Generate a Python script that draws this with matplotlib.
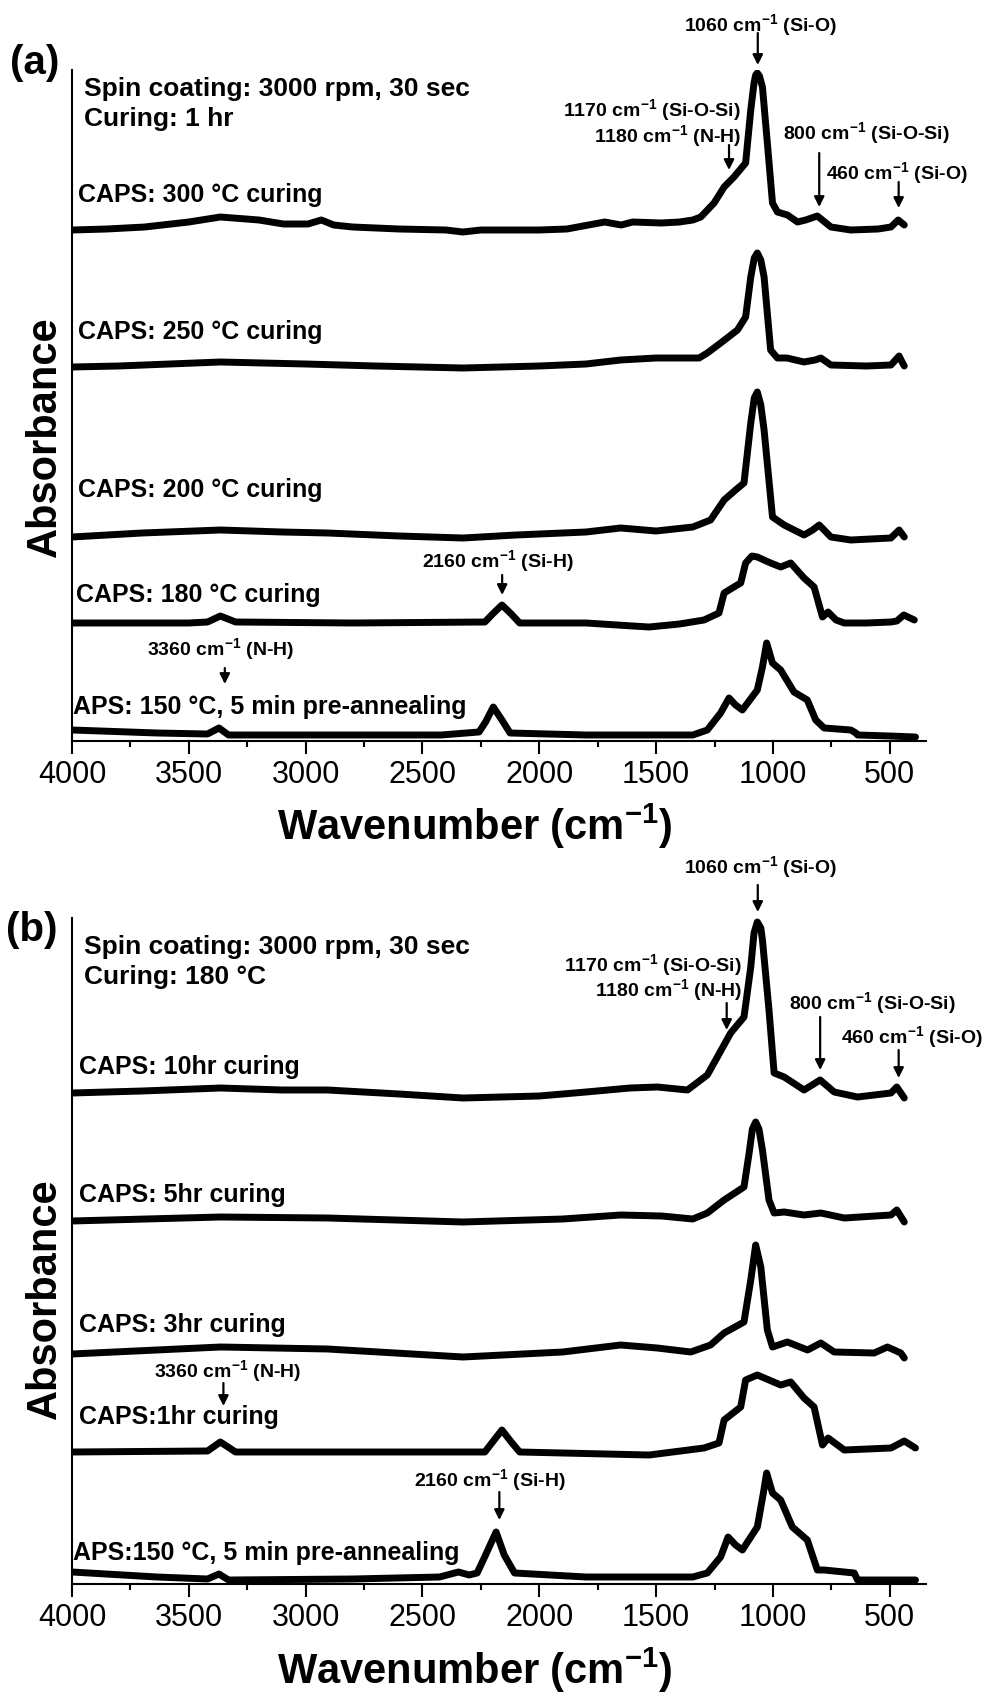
import matplotlib
matplotlib.use('Agg')
import matplotlib.pyplot as plt
from matplotlib.ticker import MultipleLocator

plt.rcParams['font.family'] = ['Liberation Sans', 'DejaVu Sans']
plt.rcParams['mathtext.default'] = 'regular'

W, H = 987, 1695

# ---- panel (a): curing temperature, absorbance (a.u., stacked) ----
wn_300 = [4000, 3850, 3689, 3500, 3365, 3200, 3095, 2990, 2933, 2880, 2799, 2600, 2400, 2327, 2250,
          2000, 1882, 1720, 1650, 1600, 1477, 1400, 1343, 1309, 1252, 1209, 1167, 1117, 1095, 1081,
          1074, 1067, 1058, 1045, 1024, 1002, 981, 938, 895, 860, 810, 752, 667, 550, 495, 464, 438]
ab_300 = [5.11, 5.12, 5.14, 5.19, 5.24, 5.21, 5.17, 5.17, 5.21, 5.16, 5.14, 5.12, 5.11, 5.09, 5.11,
          5.11, 5.12, 5.19, 5.16, 5.19, 5.18, 5.19, 5.21, 5.24, 5.38, 5.54, 5.64, 5.78, 6.31, 6.58,
          6.66, 6.68, 6.65, 6.54, 5.98, 5.38, 5.29, 5.26, 5.19, 5.21, 5.25, 5.14, 5.11, 5.12, 5.14, 5.21, 5.16]

wn_250 = [4000, 3800, 3365, 3000, 2700, 2327, 2000, 1800, 1652, 1500, 1316, 1281, 1224, 1152, 1117,
          1095, 1080, 1067, 1052, 1038, 1010, 981, 940, 867, 820, 795, 752, 600, 495, 460, 452, 438]
ab_250 = [3.74, 3.75, 3.79, 3.77, 3.75, 3.73, 3.75, 3.77, 3.81, 3.83, 3.83, 3.88, 3.98, 4.11, 4.24,
          4.64, 4.83, 4.88, 4.81, 4.64, 3.91, 3.83, 3.83, 3.79, 3.81, 3.83, 3.76, 3.75, 3.76, 3.85, 3.81, 3.75]

wn_200 = [4000, 3700, 3365, 3100, 2906, 2600, 2327, 2100, 1800, 1652, 1500, 1343, 1267, 1209, 1160,
          1124, 1095, 1080, 1067, 1052, 1038, 1002, 952, 867, 830, 802, 752, 667, 495, 460, 438]
ab_200 = [2.04, 2.08, 2.11, 2.09, 2.08, 2.05, 2.03, 2.06, 2.09, 2.13, 2.10, 2.14, 2.21, 2.41, 2.51,
          2.58, 3.18, 3.43, 3.49, 3.36, 3.11, 2.24, 2.16, 2.06, 2.11, 2.16, 2.04, 2.01, 2.03, 2.11, 2.04]

wn_180 = [4000, 3500, 3420, 3365, 3300, 2800, 2233, 2200, 2160, 2120, 2084, 1800, 1600, 1530, 1400,
          1295, 1231, 1209, 1160, 1138, 1117, 1090, 1067, 1010, 967, 924, 890, 867, 824, 788, 764,
          730, 695, 600, 495, 470, 440, 395]
ab_180 = [1.18, 1.18, 1.19, 1.25, 1.19, 1.18, 1.19, 1.27, 1.36, 1.27, 1.18, 1.18, 1.15, 1.14, 1.17,
          1.21, 1.28, 1.48, 1.55, 1.58, 1.78, 1.85, 1.84, 1.78, 1.74, 1.78, 1.69, 1.63, 1.54, 1.24, 1.29,
          1.21, 1.18, 1.18, 1.19, 1.20, 1.26, 1.21]

wn_aps_a = [4000, 3636, 3420, 3371, 3330, 2800, 2420, 2258, 2230, 2197, 2160, 2125, 1800, 1343, 1281,
            1224, 1188, 1160, 1131, 1067, 1045, 1027, 1002, 967, 910, 853, 817, 781, 667, 645, 638, 500, 390]
ab_aps_a = [0.11, 0.08, 0.07, 0.13, 0.06, 0.06, 0.06, 0.09, 0.19, 0.34, 0.21, 0.08, 0.06, 0.06, 0.11,
            0.28, 0.43, 0.36, 0.31, 0.51, 0.74, 0.98, 0.78, 0.71, 0.49, 0.41, 0.21, 0.13, 0.11, 0.08, 0.06, 0.05, 0.04]

# ---- panel (b): curing time ----
wn_10h = [4000, 3700, 3365, 3100, 2906, 2600, 2327, 2000, 1800, 1612, 1495, 1366, 1281, 1238, 1181,
          1124, 1095, 1081, 1067, 1052, 1045, 1017, 995, 952, 867, 798, 738, 638, 495, 470, 438]
ab_10h = [4.91, 4.93, 4.96, 4.94, 4.94, 4.90, 4.86, 4.88, 4.92, 4.96, 4.97, 4.94, 5.09, 5.27, 5.51,
          5.67, 6.17, 6.51, 6.62, 6.56, 6.44, 5.74, 5.11, 5.07, 4.94, 5.04, 4.92, 4.87, 4.91, 4.97, 4.86]

wn_5h = [4000, 3365, 2906, 2327, 1900, 1652, 1477, 1343, 1281, 1209, 1124, 1102, 1088, 1074, 1060,
         1045, 1017, 995, 952, 867, 795, 695, 495, 470, 438]
ab_5h = [3.63, 3.67, 3.66, 3.62, 3.65, 3.69, 3.68, 3.65, 3.71, 3.84, 3.97, 4.31, 4.55, 4.62, 4.55,
         4.34, 3.84, 3.71, 3.72, 3.69, 3.71, 3.66, 3.69, 3.74, 3.62]

wn_3h = [4000, 3365, 2906, 2327, 1900, 1652, 1495, 1352, 1267, 1209, 1124, 1095, 1074, 1052, 1024,
         1002, 938, 852, 795, 738, 567, 510, 453, 438]
ab_3h = [2.30, 2.37, 2.35, 2.27, 2.32, 2.39, 2.36, 2.32, 2.39, 2.51, 2.62, 3.04, 3.39, 3.17, 2.54,
         2.37, 2.42, 2.34, 2.41, 2.32, 2.31, 2.37, 2.31, 2.26]

wn_1h = [4000, 3420, 3365, 3300, 2233, 2200, 2160, 2120, 2084, 1530, 1295, 1231, 1209, 1138, 1117,
         1067, 967, 924, 867, 824, 788, 764, 695, 495, 438, 390]
ab_1h = [1.32, 1.33, 1.42, 1.32, 1.32, 1.42, 1.54, 1.42, 1.32, 1.29, 1.36, 1.41, 1.64, 1.77, 2.04,
         2.09, 1.99, 2.02, 1.86, 1.77, 1.39, 1.46, 1.34, 1.36, 1.43, 1.36]

wn_aps_b = [4000, 3636, 3420, 3371, 3330, 2800, 2427, 2346, 2300, 2266, 2230, 2185, 2150, 2106, 1800,
            1343, 1281, 1224, 1192, 1160, 1131, 1067, 1041, 1027, 1002, 967, 917, 853, 810, 781, 652, 638, 390]
ab_aps_b = [0.12, 0.07, 0.05, 0.10, 0.04, 0.05, 0.07, 0.12, 0.09, 0.11, 0.29, 0.52, 0.29, 0.11, 0.07,
            0.07, 0.11, 0.27, 0.47, 0.39, 0.34, 0.57, 0.91, 1.11, 0.91, 0.84, 0.57, 0.44, 0.14, 0.14, 0.11, 0.04, 0.04]

xticks_major = [4000, 3500, 3000, 2500, 2000, 1500, 1000, 500]


def px2fig(px, py):
    return px / W, 1 - py / H


def setup_axes(ax):
    ax.set_xlim(4000, 345)
    ax.spines['top'].set_visible(False)
    ax.spines['right'].set_visible(False)
    ax.spines['left'].set_linewidth(1.5)
    ax.spines['bottom'].set_linewidth(1.5)
    ax.set_yticks([])
    ax.set_xticks(xticks_major)
    ax.xaxis.set_minor_locator(MultipleLocator(250))
    ax.tick_params(axis='x', which='major', direction='out', length=9, width=1.5,
                   labelsize=22, pad=5)
    ax.tick_params(axis='x', which='minor', direction='out', length=4.5, width=1.5)
    ax.patch.set_alpha(0)


def arrow(ax, base, w, py_tail, py_tip):
    ax.annotate('', xy=(w, (base - py_tip) / 100), xytext=(w, (base - py_tail) / 100),
                arrowprops=dict(arrowstyle='-|>', color='black', lw=1.6, mutation_scale=15,
                                shrinkA=0, shrinkB=0), annotation_clip=False)


def ftext(px, py, s, size, ha='left', **kw):
    x, y = px2fig(px, py)
    fig.text(x, y, s, fontsize=size, ha=ha, va='center', **kw)


fig = plt.figure(figsize=(W / 100, H / 100), dpi=100)

# pixel geometry of the two panels
A_TOP, A_BASE = 70, 741
B_TOP, B_BASE = 918, 1584
L, R = 72, 926

x0, y0 = px2fig(L, A_BASE)
ax_a = fig.add_axes([x0, y0, (R - L) / W, (A_BASE - A_TOP) / H])
x0, y0 = px2fig(L, B_BASE)
ax_b = fig.add_axes([x0, y0, (R - L) / W, (B_BASE - B_TOP) / H])

line_kw = dict(color='black', lw=5, solid_joinstyle='round', solid_capstyle='round')

for wn, ab in [(wn_300, ab_300), (wn_250, ab_250), (wn_200, ab_200), (wn_180, ab_180), (wn_aps_a, ab_aps_a)]:
    ax_a.plot(wn, ab, **line_kw)
ax_a.set_ylim(0, (A_BASE - A_TOP) / 100)
setup_axes(ax_a)

for wn, ab in [(wn_10h, ab_10h), (wn_5h, ab_5h), (wn_3h, ab_3h), (wn_1h, ab_1h), (wn_aps_b, ab_aps_b)]:
    ax_b.plot(wn, ab, **line_kw)
ax_b.set_ylim(0, (B_BASE - B_TOP) / 100)
setup_axes(ax_b)

# arrows (a)
arrow(ax_a, A_BASE, 1065, 33, 65)
arrow(ax_a, A_BASE, 1188, 145, 170)
arrow(ax_a, A_BASE, 802, 153, 207)
arrow(ax_a, A_BASE, 462, 182, 208)
arrow(ax_a, A_BASE, 2159, 575, 595)
arrow(ax_a, A_BASE, 3346, 668, 684)
# arrows (b)
arrow(ax_b, B_BASE, 1065, 885, 912)
arrow(ax_b, B_BASE, 1198, 1003, 1030)
arrow(ax_b, B_BASE, 798, 1017, 1070)
arrow(ax_b, B_BASE, 462, 1050, 1078)
arrow(ax_b, B_BASE, 3352, 1383, 1406)
arrow(ax_b, B_BASE, 2171, 1492, 1520)

# peak labels
pk = 14
for s, px, py, ha in [
    ('1060 cm$^{-1}$ (Si-O)', 760, 25, 'center'),
    ('1170 cm$^{-1}$ (Si-O-Si)', 741, 110, 'right'),
    ('1180 cm$^{-1}$ (N-H)', 741, 136, 'right'),
    ('800 cm$^{-1}$ (Si-O-Si)', 783, 133, 'left'),
    ('460 cm$^{-1}$ (Si-O)', 826, 173, 'left'),
    ('2160 cm$^{-1}$ (Si-H)', 498, 561, 'center'),
    ('3360 cm$^{-1}$ (N-H)', 221, 649, 'center'),
    ('1060 cm$^{-1}$ (Si-O)', 760, 867, 'center'),
    ('1170 cm$^{-1}$ (Si-O-Si)', 742, 965, 'right'),
    ('1180 cm$^{-1}$ (N-H)', 742, 990, 'right'),
    ('800 cm$^{-1}$ (Si-O-Si)', 789, 1003, 'left'),
    ('460 cm$^{-1}$ (Si-O)', 841, 1037, 'left'),
    ('3360 cm$^{-1}$ (N-H)', 228, 1371, 'center'),
    ('2160 cm$^{-1}$ (Si-H)', 490, 1480, 'center'),
]:
    ftext(px, py, s, pk, ha=ha, fontweight='bold')

# sample labels
sl = 18
for s, px, py in [
    ('CAPS: 300 °C curing', 78, 195),
    ('CAPS: 250 °C curing', 78, 332),
    ('CAPS: 200 °C curing', 78, 490),
    ('CAPS: 180 °C curing', 76, 595),
    ('APS: 150 °C, 5 min pre-annealing', 73, 707),
    ('CAPS: 10hr curing', 79, 1067),
    ('CAPS: 5hr curing', 79, 1195),
    ('CAPS: 3hr curing', 79, 1325),
    ('CAPS:1hr curing', 79, 1417),
    ('APS:150 °C, 5 min pre-annealing', 73, 1553),
]:
    ftext(px, py, s, sl, fontweight='bold')

# condition notes
for s, px, py in [
    ('Spin coating: 3000 rpm, 30 sec', 84, 89),
    ('Curing: 1 hr', 84, 119),
    ('Spin coating: 3000 rpm, 30 sec', 84, 947),
    ('Curing: 180 °C', 84, 977),
]:
    ftext(px, py, s, 19, fontweight='bold')

ftext(35, 63, '(a)', 29, ha='center', fontweight='bold')
ftext(32, 930, '(b)', 29, ha='center', fontweight='bold')

# axis titles
for py in (826, 1670):
    ftext(475, py, 'Wavenumber (cm$^{-1}$)', 30, ha='center', fontweight='bold')
for py in (437, 1299):
    ftext(45, py, 'Absorbance', 30, ha='center', fontweight='bold', rotation=90)

fig.savefig('out.png', dpi=100)
